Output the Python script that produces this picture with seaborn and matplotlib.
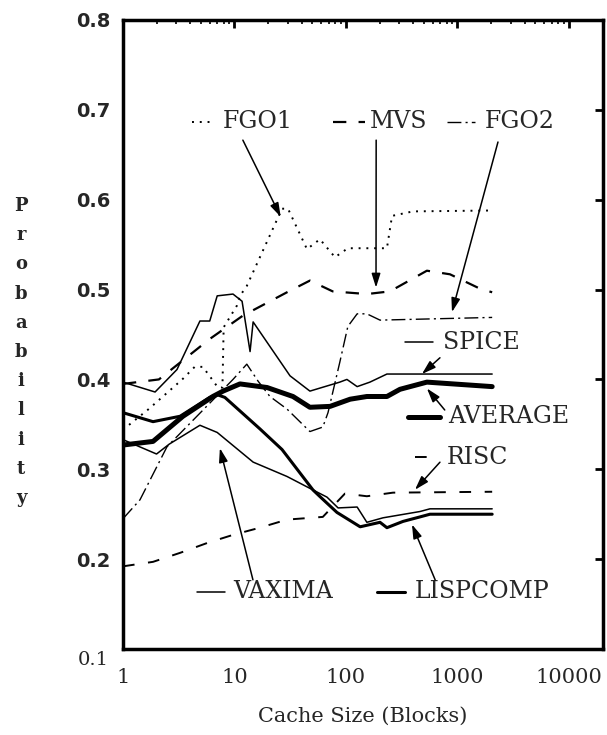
import numpy as np
import matplotlib
matplotlib.use('Agg')
import matplotlib.pyplot as plt
import seaborn as sns
from matplotlib.ticker import LogLocator, NullFormatter

# Значения: размер кэша (блоки) -> вероятность
fgo1_x = [1, 1.7, 3.4, 4.4, 5.2, 6.3, 7.1, 7.8, 8.0, 10.5, 11.2, 12.9, 26.7, 30.2, 44.7, 58.4, 79.7, 104, 233, 259, 399, 2048]
fgo1_y = [0.344, 0.367, 0.400, 0.414, 0.414, 0.400, 0.391, 0.391, 0.458, 0.482, 0.493, 0.504, 0.590, 0.590,
          0.545, 0.556, 0.536, 0.546, 0.546, 0.582, 0.587, 0.588]

mvs_x = [1, 2.1, 6.0, 11.9, 29.6, 47.5, 76, 154, 248, 532, 857, 1592, 2048]
mvs_y = [0.395, 0.400, 0.445, 0.471, 0.497, 0.510, 0.498, 0.495, 0.498, 0.521, 0.517, 0.501, 0.497]

fgo2_x = [1, 1.42, 2.48, 9.7, 12.9, 16.3, 20.8, 29.6, 47.5, 62, 69, 88, 104, 126, 154, 202, 2048]
fgo2_y = [0.245, 0.266, 0.325, 0.400, 0.417, 0.398, 0.381, 0.367, 0.342, 0.347, 0.363, 0.419, 0.459,
          0.473, 0.473, 0.466, 0.469]

spice_x = [1, 1.94, 3.05, 4.9, 6.0, 7.0, 9.7, 11.7, 13.8, 14.7, 31.5, 47.5, 88, 102, 126, 164, 233, 2048]
spice_y = [0.397, 0.386, 0.411, 0.465, 0.465, 0.493, 0.495, 0.487, 0.431, 0.464, 0.404, 0.387, 0.397,
           0.400, 0.392, 0.397, 0.406, 0.406]

avg_x = [1, 1.86, 3.45, 6.4, 7.9, 11.2, 19.6, 33.5, 47.5, 72, 109, 154, 233, 305, 532, 2048]
avg_y = [0.327, 0.331, 0.359, 0.381, 0.387, 0.395, 0.391, 0.381, 0.369, 0.370, 0.378, 0.381, 0.381,
         0.389, 0.397, 0.392]

lisp_x = [1, 1.86, 3.25, 6.0, 7.0, 8.2, 16.9, 26.7, 50.6, 58, 83, 134, 202, 233, 325, 461, 567, 2048]
lisp_y = [0.363, 0.353, 0.359, 0.380, 0.383, 0.380, 0.345, 0.322, 0.277, 0.270, 0.252, 0.236, 0.241,
          0.235, 0.242, 0.247, 0.250, 0.250]

vax_x = [1, 2.0, 2.6, 4.9, 7.0, 14.7, 29.6, 50.6, 67.6, 85, 126, 154, 215, 461, 567, 2048]
vax_y = [0.333, 0.317, 0.328, 0.349, 0.341, 0.308, 0.292, 0.277, 0.269, 0.257, 0.258, 0.241, 0.246,
         0.253, 0.256, 0.256]

risc_x = [1, 1.86, 3.25, 5.7, 9.7, 16.9, 29.6, 62, 98, 154, 264, 2048]
risc_y = [0.192, 0.197, 0.207, 0.218, 0.227, 0.235, 0.244, 0.247, 0.273, 0.270, 0.274, 0.275]

x_ticks = [1, 10, 100, 1000, 10000]
x_tick_labels = ['1', '10', '100', '1000', '10000']
y_ticks = [0.1, 0.2, 0.3, 0.4, 0.5, 0.6, 0.7, 0.8]
y_tick_labels = ['', '0.2', '0.3', '0.4', '0.5', '0.6', '0.7', '0.8']

series = {
    'FGO1': (fgo1_x, fgo1_y, 1.4, (0, (1, 3))),
    'MVS': (mvs_x, mvs_y, 1.6, (0, (6, 5.5))),
    'FGO2': (fgo2_x, fgo2_y, 1.0, (0, (10, 3, 1.5, 3))),
    'SPICE': (spice_x, spice_y, 1.1, '-'),
    'AVERAGE': (avg_x, avg_y, 3.6, '-'),
    'LISPCOMP': (lisp_x, lisp_y, 2.2, '-'),
    'VAXIMA': (vax_x, vax_y, 1.1, '-'),
    'RISC': (risc_x, risc_y, 1.4, (0, (6, 7))),
}

# подписи: образец линии (x0, x1), позиция текста, начало стрелки, цель стрелки (x, сдвиг по y)
labels = [
    ('FGO1', 0.144, 0.192, 0.208, 0.838, (0.250, 0.809), 26, -0.006),
    ('MVS', 0.438, 0.505, 0.515, 0.838, (0.528, 0.809), 186, 0.006),
    ('FGO2', 0.676, 0.734, 0.755, 0.838, (0.782, 0.806), 893, 0.007),
    ('SPICE', 0.588, 0.646, 0.667, 0.488, (0.661, 0.463), 480, 0.0),
    ('AVERAGE', 0.594, 0.661, 0.678, 0.369, (0.671, 0.380), 532, -0.007),
    ('RISC', 0.609, 0.636, 0.676, 0.305, (0.661, 0.297), 416, 0.003),
    ('VAXIMA', 0.154, 0.213, 0.229, 0.091, (0.271, 0.110), 7.4, -0.015),
    ('LISPCOMP', 0.530, 0.588, 0.609, 0.091, (0.651, 0.110), 391, -0.006),
]

sns.set_theme(style='white')
plt.rcParams['font.family'] = ['DejaVu Serif', 'DejaVu Sans']

fig = plt.figure(figsize=(6.07, 7.35), dpi=100)
ax = fig.add_axes([0.2026, 0.117, 0.790, 0.8558])

for name, (xs, ys, lw, ls) in series.items():
    sns.lineplot(x=xs, y=ys, ax=ax, color='black', linewidth=lw, linestyle=ls,
                 errorbar=None, sort=False)

ax.set_xscale('log')
ax.set_xlim(1, 2e4)
ax.set_ylim(0.1, 0.8)
ax.set_xticks(x_ticks, labels=x_tick_labels, fontsize=15, family='DejaVu Serif')
ax.xaxis.set_minor_locator(LogLocator(base=10, subs=np.arange(2, 10)))
ax.xaxis.set_minor_formatter(NullFormatter())
ax.set_yticks(y_ticks, labels=y_tick_labels, fontsize=14, fontweight='bold', family='DejaVu Sans')
ax.tick_params(which='major', direction='in', top=True, right=True, length=6, width=2, color='black')
ax.tick_params(which='minor', direction='in', top=True, length=3, width=1.2, color='black')
ax.tick_params(axis='x', which='major', pad=14)
ax.tick_params(axis='y', which='major', pad=9)
ax.annotate('0.1', xy=(0, 0.1), xycoords=('axes fraction', 'data'), xytext=(-10, -8),
            textcoords='offset points', ha='right', va='center', fontsize=14, family='DejaVu Serif')
for s in ax.spines.values():
    s.set_linewidth(2.5)
    s.set_color('black')

ax.set_xlabel('Cache Size (Blocks)', fontsize=15, family='DejaVu Serif', labelpad=14)
ax.set_ylabel('')
fig.text(0.035, 0.521, '\n'.join('Probability'), ha='center', va='center', fontsize=13,
         fontweight='bold', family='DejaVu Serif', linespacing=1.8)

for name, x0, x1, tx, ty, start, tgt_x, dy in labels:
    xs, ys, lw, ls = series[name]
    ax.plot([x0, x1], [ty, ty], transform=ax.transAxes, color='black', linewidth=lw,
            linestyle=ls, clip_on=False)
    ax.text(tx, ty, name, transform=ax.transAxes, ha='left', va='center', fontsize=17,
            family='DejaVu Serif')
    tgt_y = np.interp(np.log10(tgt_x), np.log10(xs), ys) + dy
    ax.annotate('', xy=(tgt_x, tgt_y), xycoords='data', xytext=start, textcoords='axes fraction',
                arrowprops=dict(arrowstyle='-|>,head_length=0.7,head_width=0.22', color='black',
                                lw=1.1, shrinkA=0, shrinkB=0))

fig.savefig('out.png', dpi=100)
